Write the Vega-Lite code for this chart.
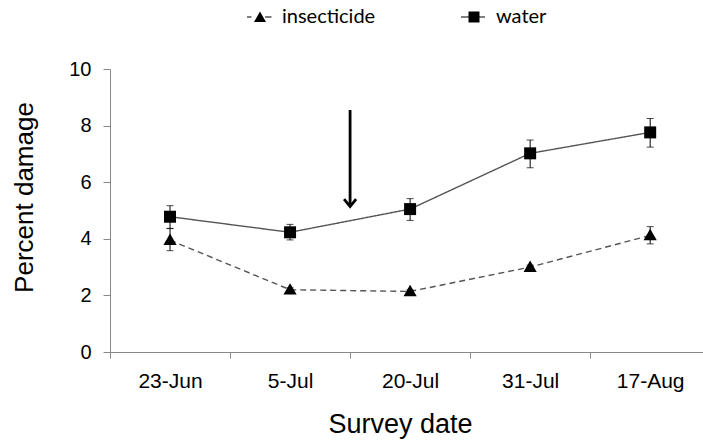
{
  "$schema": "https://vega.github.io/schema/vega-lite/v6.json",
  "autosize": "none",
  "width": 593,
  "height": 283,
  "padding": {"left": 110, "top": 69, "right": 0, "bottom": 88},
  "background": "white",
  "config": {"view": {"stroke": null}, "font": "Liberation Sans"},
  "datasets": {
    "pts": [
      {"i": 1, "date": "23-Jun", "series": "water", "v": 4.78, "lo": 4.37, "hi": 5.17},
      {"i": 2, "date": "5-Jul", "series": "water", "v": 4.23, "lo": 3.96, "hi": 4.51},
      {"i": 3, "date": "20-Jul", "series": "water", "v": 5.05, "lo": 4.65, "hi": 5.42},
      {"i": 4, "date": "31-Jul", "series": "water", "v": 7.02, "lo": 6.51, "hi": 7.49},
      {"i": 5, "date": "17-Aug", "series": "water", "v": 7.76, "lo": 7.24, "hi": 8.25},
      {"i": 1, "date": "23-Jun", "series": "insecticide", "v": 3.95, "lo": 3.58, "hi": 4.36},
      {"i": 2, "date": "5-Jul", "series": "insecticide", "v": 2.2, "lo": 2.13, "hi": 2.27},
      {"i": 3, "date": "20-Jul", "series": "insecticide", "v": 2.14, "lo": 2.08, "hi": 2.2},
      {"i": 4, "date": "31-Jul", "series": "insecticide", "v": 3.0, "lo": 2.93, "hi": 3.07},
      {"i": 5, "date": "17-Aug", "series": "insecticide", "v": 4.12, "lo": 3.82, "hi": 4.43}
    ],
    "arrow": [
      {"i": 2.5, "top": 8.55, "tip": 5.14, "ruleEnd": 5.2}
    ]
  },
  "encoding": {
    "x": {
      "field": "i", "type": "quantitative",
      "scale": {"domain": [0.5, 5.44], "nice": false, "zero": false},
      "axis": {
        "title": "Survey date",
        "values": [0.5, 1, 1.5, 2, 2.5, 3, 3.5, 4, 4.5, 5],
        "labelExpr": "datum.value == 1 ? '23-Jun' : datum.value == 2 ? '5-Jul' : datum.value == 3 ? '20-Jul' : datum.value == 4 ? '31-Jul' : datum.value == 5 ? '17-Aug' : ''",
        "tickOpacity": {"condition": {"test": "datum.value % 1 != 0", "value": 1}, "value": 0},
        "grid": false,
        "domainColor": "#888888",
        "tickColor": "#888888",
        "tickSize": 6,
        "labelFontSize": 21,
        "labelColor": "#000000",
        "labelPadding": 12,
        "labelFlush": false,
        "labelOverlap": false,
        "titleFontSize": 27,
        "titleFontWeight": "normal",
        "titleColor": "#000000",
        "titlePadding": 20,
        "titleX": 290
      }
    }
  },
  "layer": [
    {
      "data": {"name": "pts"},
      "mark": {"type": "line", "color": "#555555", "strokeWidth": 1.4},
      "encoding": {
        "y": {
          "field": "v", "type": "quantitative",
          "scale": {"domain": [0, 10], "nice": false},
          "axis": {
            "title": "Percent damage",
            "values": [0, 2, 4, 6, 8, 10],
            "grid": false,
            "domainColor": "#888888",
            "tickColor": "#888888",
            "tickSize": 7,
            "labelFontSize": 20,
            "labelColor": "#000000",
            "labelPadding": 12,
            "titleFontSize": 26,
            "titleFontWeight": "normal",
            "titleColor": "#000000",
            "titlePadding": 31,
            "titleY": 128
          }
        },
        "detail": {"field": "series"},
        "strokeDash": {
          "field": "series", "type": "nominal",
          "scale": {"range": [[6, 4], [1, 0]]},
          "legend": null
        }
      }
    },
    {
      "data": {"name": "pts"},
      "mark": {"type": "rule", "color": "#000000", "strokeWidth": 1},
      "encoding": {
        "y": {"field": "lo", "type": "quantitative"},
        "y2": {"field": "hi"}
      }
    },
    {
      "data": {"name": "pts"},
      "mark": {"type": "tick", "orient": "horizontal", "color": "#000000", "size": 7, "thickness": 1},
      "encoding": {"y": {"field": "hi", "type": "quantitative"}}
    },
    {
      "data": {"name": "pts"},
      "mark": {"type": "tick", "orient": "horizontal", "color": "#000000", "size": 7, "thickness": 1},
      "encoding": {"y": {"field": "lo", "type": "quantitative"}}
    },
    {
      "data": {"name": "pts"},
      "mark": {"type": "point", "filled": true, "color": "#000000", "opacity": 1, "size": 576},
      "encoding": {
        "y": {"field": "v", "type": "quantitative"},
        "shape": {
          "field": "series", "type": "nominal",
          "scale": {"range": ["M-0.55,0.4L0,-0.55L0.55,0.4Z", "M-0.5,-0.5H0.5V0.5H-0.5Z"]},
          "legend": null
        }
      }
    },
    {
      "data": {"name": "pts"},
      "mark": {"type": "point", "filled": true, "color": "#000000", "opacity": 0, "size": 1},
      "encoding": {
        "y": {"field": "v", "type": "quantitative"},
        "fill": {
          "field": "series", "type": "nominal",
          "scale": {"domain": ["insecticide", "water"], "range": ["#000000", "#000000"]},
          "legend": {
            "title": null,
            "orient": "none",
            "legendX": 140,
            "legendY": -62,
            "padding": 0,
            "direction": "horizontal",
            "symbolSize": 400,
            "symbolOpacity": 1,
            "symbolStrokeWidth": 0,
            "labelFont": "Lato",
            "labelFontSize": 20,
            "labelColor": "#000000",
            "labelOffset": 12,
            "columnPadding": 85,
            "encode": {
              "symbols": {
                "update": {
                  "shape": {"signal": "datum.value == 'water' ? 'M-1.3,-0.06H1.1V0.06H-1.3Z M-0.55,-0.55H0.55V0.55H-0.55Z' : 'M-1.3,-0.06H-0.85V0.06H-1.3Z M-0.6,0.5L0,-0.55L0.6,0.5Z M0.5,-0.06H1.15V0.06H0.5Z'"},
                  "opacity": {"value": 1},
                  "fill": {"value": "#000000"}
                }
              }
            }
          }
        }
      }
    },
    {
      "data": {"name": "arrow"},
      "mark": {"type": "rule", "color": "#000000", "strokeWidth": 2.8},
      "encoding": {
        "y": {"field": "top", "type": "quantitative"},
        "y2": {"field": "ruleEnd"}
      }
    },
    {
      "data": {"name": "arrow"},
      "mark": {"type": "point", "shape": "M-1,-1.25L0,0L1,-1.25", "filled": false, "color": "#000000", "strokeWidth": 2.8, "opacity": 1, "size": 144, "strokeJoin": "miter", "strokeCap": "butt"},
      "encoding": {"y": {"field": "tip", "type": "quantitative"}}
    }
  ]
}
